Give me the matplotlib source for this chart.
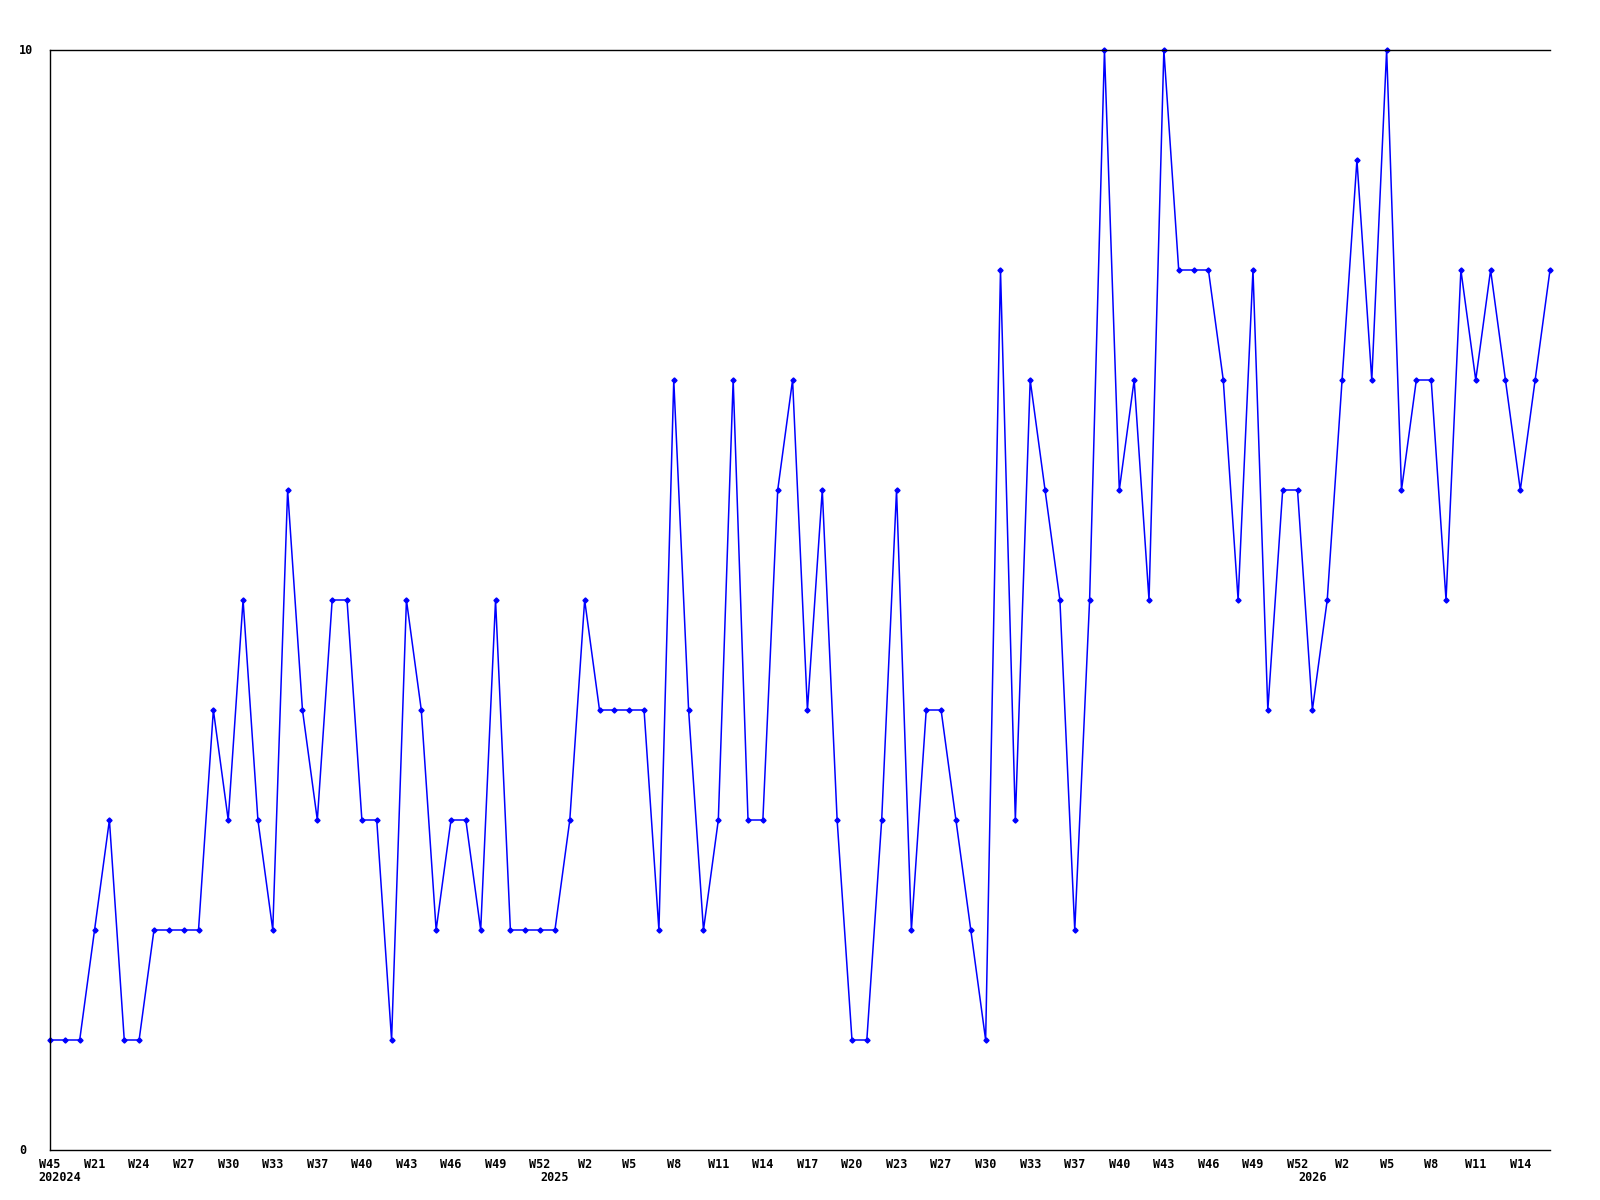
import matplotlib
matplotlib.use("Agg")
import matplotlib.pyplot as plt
import matplotlib.transforms as mtransforms

# weekly values
values = [1, 1, 1, 2, 3, 1, 1, 2, 2, 2,
          2, 4, 3, 5, 3, 2, 6, 4, 3, 5,
          5, 3, 3, 1, 5, 4, 2, 3, 3, 2,
          5, 2, 2, 2, 2, 3, 5, 4, 4, 4,
          4, 2, 7, 4, 2, 3, 7, 3, 3, 6,
          7, 4, 6, 3, 1, 1, 3, 6, 2, 4,
          4, 3, 2, 1, 8, 3, 7, 6, 5, 2,
          5, 10, 6, 7, 5, 10, 8, 8, 8, 7,
          5, 8, 4, 6, 6, 4, 5, 7, 9, 7,
          10, 6, 7, 7, 5, 8, 7, 8, 7, 6,
          7, 8]

# tick labels (every third week)
tick_idx = list(range(0, 100, 3))
tick_labels = ["W45", "W21", "W24", "W27", "W30", "W33", "W37", "W40", "W43",
               "W46", "W49", "W52", "W2", "W5", "W8", "W11", "W14", "W17",
               "W20", "W23", "W27", "W30", "W33", "W37", "W40", "W43", "W46",
               "W49", "W52", "W2", "W5", "W8", "W11", "W14"]

# year labels: (index, text)
year_idx = [0, 34, 85]
year_labels = ["202024", "2025", "2026"]

font = dict(family="DejaVu Sans Mono", fontweight="bold", fontsize=8.5)

fig = plt.figure(figsize=(16, 12), dpi=100)
ax = fig.add_axes([50 / 1600, 50 / 1200, 1500 / 1600, 1100 / 1200])

x = list(range(len(values)))
ax.plot(x, values, color="#0000ff", linewidth=1.1, marker="D", markersize=2.6,
        clip_on=False)

ax.set_xlim(0, len(values) - 1)
ax.set_ylim(0, 10)

for s in ["left", "top", "bottom"]:
    ax.spines[s].set_linewidth(1.0)
    ax.spines[s].set_color("black")
ax.spines["right"].set_visible(False)

ax.set_xticks(tick_idx)
ax.set_xticklabels(tick_labels, **font)
ax.tick_params(axis="x", length=0, pad=6)
ax.set_yticks([])

# y labels, left aligned
trans_y = mtransforms.blended_transform_factory(fig.transFigure, ax.transData)
ax.text(19 / 1600, 10, "10", transform=trans_y, ha="left", va="center", **font)
ax.text(19 / 1600, 0, "0", transform=trans_y, ha="left", va="center", **font)

# year labels under week labels
trans_x = mtransforms.blended_transform_factory(ax.transData, fig.transFigure)
for i, lab in zip(year_idx, year_labels):
    if i == 0:
        ax.text(i - 0.75, 1 - 1177.5 / 1200, lab, transform=trans_x,
                ha="left", va="center", **font)
    else:
        ax.text(i, 1 - 1177.5 / 1200, lab, transform=trans_x,
                ha="center", va="center", **font)

fig.savefig("out.png", dpi=100)
